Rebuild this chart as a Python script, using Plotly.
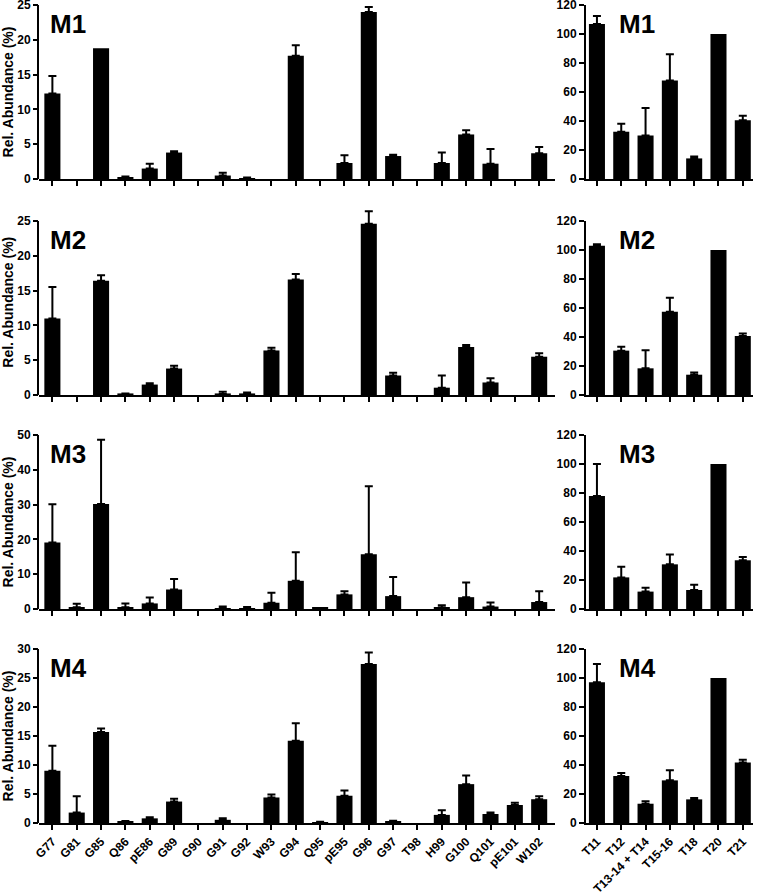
import plotly.graph_objects as go
from plotly.subplots import make_subplots

residues = ['G77', 'G81', 'G85', 'Q86', 'pE86', 'G89', 'G90', 'G91', 'G92', 'W93', 'G94',
            'Q95', 'pE95', 'G96', 'G97', 'T98', 'H99', 'G100', 'Q101', 'pE101', 'W102']
peptides = ['T11', 'T12', 'T13-14 + T14', 'T15-16', 'T18', 'T20', 'T21']
mice = ['M1', 'M2', 'M3', 'M4']

# residue level (%), mean and upper error
m1_res = [12.3, 0, 18.8, 0.25, 1.5, 3.8, 0, 0.5, 0.1, 0, 17.7, 0, 2.3, 24.0, 3.3, 0, 2.3, 6.4, 2.2, 0, 3.7]
m1_res_err = [2.5, 0, 0, 0.1, 0.7, 0.2, 0, 0.4, 0.1, 0, 1.5, 0, 1.1, 0.7, 0.2, 0, 1.5, 0.6, 2.1, 0, 0.9]
m2_res = [11.0, 0, 16.4, 0.15, 1.5, 3.8, 0, 0.15, 0.15, 6.4, 16.6, 0, 0, 24.6, 2.8, 0, 1.05, 6.9, 1.8, 0, 5.5]
m2_res_err = [4.5, 0, 0.8, 0.05, 0.2, 0.4, 0, 0.3, 0.2, 0.4, 0.8, 0, 0, 1.8, 0.4, 0, 1.75, 0.3, 0.6, 0, 0.5]
m3_res = [19.1, 0.5, 30.2, 0.5, 1.6, 5.6, 0, 0.2, 0.1, 1.8, 8.1, 0.3, 4.2, 15.7, 3.7, 0, 0.4, 3.4, 0.7, 0, 2.0]
m3_res_err = [11.0, 1.0, 18.4, 1.1, 1.7, 3.0, 0, 0.5, 0.5, 2.9, 8.2, 0, 0.9, 19.6, 5.5, 0, 0.7, 4.2, 1.2, 0, 3.1]
m4_res = [9.0, 1.8, 15.7, 0.3, 0.8, 3.7, 0, 0.55, 0, 4.4, 14.2, 0.15, 4.7, 27.4, 0.3, 0, 1.4, 6.7, 1.55, 3.1, 4.1]
m4_res_err = [4.3, 2.8, 0.6, 0.05, 0.2, 0.5, 0, 0.25, 0, 0.5, 3.0, 0.05, 0.9, 2.0, 0.1, 0, 0.8, 1.5, 0.25, 0.4, 0.5]

# peptide level (% of T20)
m1_pep = [106.9, 32.6, 30.0, 67.9, 14.2, 100, 40.6]
m1_pep_err = [5.5, 5.5, 18.9, 18.1, 1.4, 0, 3.0]
m2_pep = [103.0, 30.6, 18.4, 57.5, 14.0, 100, 40.7]
m2_pep_err = [1.0, 2.7, 12.4, 9.5, 1.6, 0, 1.8]
m3_pep = [77.9, 21.8, 12.0, 30.8, 13.1, 100, 33.6]
m3_pep_err = [22.1, 7.4, 2.7, 6.7, 3.7, 0, 2.3]
m4_pep = [97.0, 32.4, 13.3, 29.4, 16.3, 100, 41.8]
m4_pep_err = [12.7, 2.1, 1.7, 6.9, 0.9, 0, 1.9]

res_vals = [m1_res, m2_res, m3_res, m4_res]
res_errs = [m1_res_err, m2_res_err, m3_res_err, m4_res_err]
pep_vals = [m1_pep, m2_pep, m3_pep, m4_pep]
pep_errs = [m1_pep_err, m2_pep_err, m3_pep_err, m4_pep_err]
res_ymax = [25, 25, 50, 30]
res_dtick = [5, 5, 10, 5]

FONT = 'Liberation Sans, Arial, sans-serif'
W, H = 757, 894

fig = make_subplots(rows=4, cols=2)


def add_bars(vals, errs, row, col):
    # bars with an error bar, and bars without (zeros would otherwise get a stray cap)
    with_err = [k for k, e in enumerate(errs) if e > 0]
    no_err = [k for k, (v, e) in enumerate(zip(vals, errs)) if e <= 0 and v > 0]
    fig.add_trace(go.Bar(
        x=with_err, y=[vals[k] for k in with_err], width=0.66,
        marker=dict(color='black', line=dict(width=0)),
        error_y=dict(type='data', symmetric=False, array=[errs[k] for k in with_err],
                     arrayminus=[0] * len(with_err), color='black', thickness=2, width=4),
        showlegend=False, hoverinfo='skip'), row=row, col=col)
    fig.add_trace(go.Bar(
        x=no_err, y=[vals[k] for k in no_err], width=0.66,
        marker=dict(color='black', line=dict(width=0)),
        showlegend=False, hoverinfo='skip'), row=row, col=col)


# pixel positions of the panels (top, bottom of plot area)
row_px = [(5, 179), (221, 395), (435, 609), (649, 823)]
left_px = (39, 555)
right_px = (586, 753)
label_px = (48, 617)

tickfont = dict(family=FONT, size=12, color='black', weight='bold')

for i in range(4):
    r = i + 1
    add_bars(res_vals[i], res_errs[i], r, 1)
    add_bars(pep_vals[i], pep_errs[i], r, 2)

    top, bottom = row_px[i]
    ydom = [1 - bottom / H, 1 - top / H]
    # let error bars poke out above the last tick (the axis line stops at the tick)
    res_top = max(v + e for v, e in zip(res_vals[i], res_errs[i]))
    res_range = max(res_ymax[i], res_top * 1.01)
    ltop = bottom - (bottom - top) * res_range / res_ymax[i]
    ydom_left = [1 - bottom / H, 1 - ltop / H]

    last = (i == 3)
    axis_common = dict(linecolor='black', linewidth=2, ticks='outside',
                       ticklen=5, tickwidth=1.5, tickcolor='black', showgrid=False,
                       zeroline=False, tickfont=tickfont, ticklabeloverflow='allow')
    fig.update_xaxes(domain=[left_px[0] / W, left_px[1] / W], range=[-0.55, 20.65],
                     tickmode='array', tickvals=list(range(len(residues))), showline=True,
                     ticktext=residues, showticklabels=last, tickangle=-45,
                     row=r, col=1, **axis_common)
    fig.update_xaxes(domain=[right_px[0] / W, right_px[1] / W], range=[-0.45, 6.42],
                     tickmode='array', tickvals=list(range(len(peptides))), showline=True,
                     ticktext=peptides, showticklabels=last, tickangle=-45,
                     row=r, col=2, **axis_common)
    fig.update_yaxes(domain=ydom_left, range=[0, res_range], dtick=res_dtick[i],
                     showline=False,
                     title=dict(text='Rel. Abundance (%)', standoff=4,
                                font=dict(family=FONT, size=14, color='black', weight='bold')),
                     row=r, col=1, **axis_common)
    fig.update_yaxes(domain=ydom, range=[0, 120], dtick=20, showline=True,
                     row=r, col=2, **axis_common)

    # left y axis line only up to the last tick
    yname = 'y' if i == 0 else 'y%d' % (2 * i + 1)
    fig.add_shape(type='line', xref='paper', yref=yname,
                  x0=(left_px[0] - 1) / W, x1=(left_px[0] - 1) / W, y0=0, y1=res_ymax[i],
                  line=dict(color='black', width=2))

    for lx in label_px:
        fig.add_annotation(text=mice[i], xref='paper', yref='paper',
                           x=lx / W, y=1 - (top + 19) / H, xanchor='left', yanchor='middle',
                           showarrow=False,
                           font=dict(family=FONT, size=26, color='black', weight='bold'))

fig.update_layout(
    width=W, height=H,
    margin=dict(l=0, r=0, t=0, b=0, autoexpand=False),
    plot_bgcolor='white', paper_bgcolor='white',
    barmode='overlay',
)

fig.write_html("out.html", config={'displayModeBar': False},
               post_script="document.body.style.margin='0';")
